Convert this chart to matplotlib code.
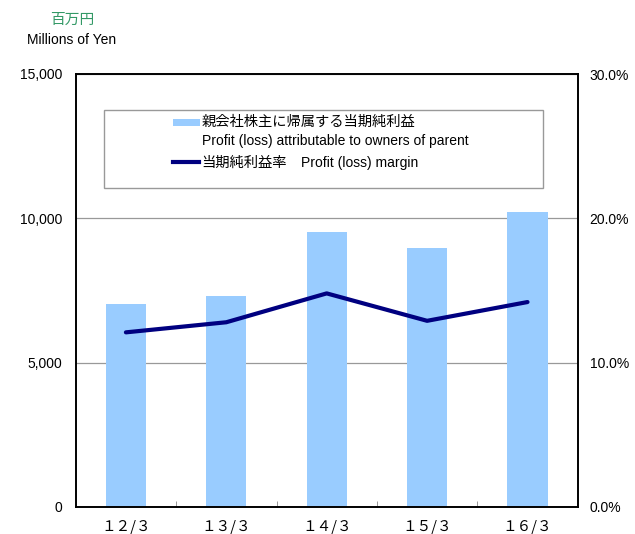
import matplotlib.pyplot as plt
from matplotlib.patches import Rectangle
from matplotlib.lines import Line2D
from matplotlib.ticker import FuncFormatter

plt.rcParams["font.family"] = ["Liberation Sans", "Noto Sans CJK JP", "DejaVu Sans"]

years = ["１２/３", "１３/３", "１４/３", "１５/３", "１６/３"]
profit = [7030, 7320, 9525, 8960, 10220]       # millions of yen
margin = [12.1, 12.8, 14.8, 12.9, 14.2]         # percent

W, H = 635, 534
fig = plt.figure(figsize=(W / 100, H / 100), dpi=100)
cjk = ["Noto Sans CJK JP", "DejaVu Sans"]


def px(x, y):
    return x / W, 1 - y / H


ax = fig.add_axes([75.7 / W, 27 / H, 502 / W, 433 / H])
x = range(len(years))
ax.bar(x, profit, width=0.4, color="#99CCFF", zorder=2)
ax.set_xlim(-0.5, len(years) - 0.5)
ax.set_ylim(0, 15000)
ax.set_yticks([0, 5000, 10000, 15000])
ax.yaxis.set_major_formatter(FuncFormatter(lambda v, p: f"{v:,.0f}"))
ax.grid(axis="y", color="#999999", linewidth=0.9, zorder=0)
ax.set_xticks(x)
ax.set_xticklabels(years, fontsize=10.5, family=cjk)
ax.set_xticks([i + 0.5 for i in range(len(years) - 1)], minor=True)
ax.tick_params(axis="x", which="major", length=0, pad=9)
ax.tick_params(axis="x", which="minor", direction="in", length=4, color="#888888")
ax.tick_params(axis="y", labelsize=10, length=0, pad=9.5)
for s in ax.spines.values():
    s.set_linewidth(1.2)

ax2 = ax.twinx()
ax2.plot(x, margin, color="#000080", linewidth=3, solid_capstyle="round", zorder=3)
ax2.set_ylim(0, 30)
ax2.set_yticks([0, 10, 20, 30])
ax2.yaxis.set_major_formatter(FuncFormatter(lambda v, p: f"{v:.1f}%"))
ax2.tick_params(axis="y", labelsize=10, length=0, pad=8.5)
for s in ax2.spines.values():
    s.set_linewidth(1.2)

# legend box
fig.patches.append(Rectangle(px(104, 188), 439 / W, 78 / H, transform=fig.transFigure,
                             facecolor="white", edgecolor="#999999", linewidth=1, zorder=5))
fig.patches.append(Rectangle(px(172.5, 126), 27 / W, 7.5 / H, transform=fig.transFigure,
                             facecolor="#99CCFF", edgecolor="none", zorder=6))
fig.lines.append(Line2D([px(173, 0)[0], px(199, 0)[0]], [px(0, 162.3)[1]] * 2,
                        transform=fig.transFigure, color="#000080", linewidth=3, zorder=6))
fig.text(*px(201.5, 122.3), "親会社株主に帰属する当期純利益", fontsize=10.3, va="center",
         family=cjk, zorder=7)
fig.text(*px(201.5, 141), "Profit (loss) attributable to owners of parent", fontsize=10,
         va="center", zorder=7)
fig.text(*px(201.5, 163.3), "当期純利益率", fontsize=10.3, va="center", family=cjk, zorder=7)
fig.text(*px(301, 163.3), "Profit (loss) margin", fontsize=10, va="center", zorder=7)

# unit labels
fig.text(*px(72, 20), "百万円", fontsize=10.6, color="#339966", ha="center", va="center",
         family=cjk)
fig.text(*px(72, 40), "Millions of Yen", fontsize=10, ha="center", va="center")

fig.savefig("out.png", dpi=100)
